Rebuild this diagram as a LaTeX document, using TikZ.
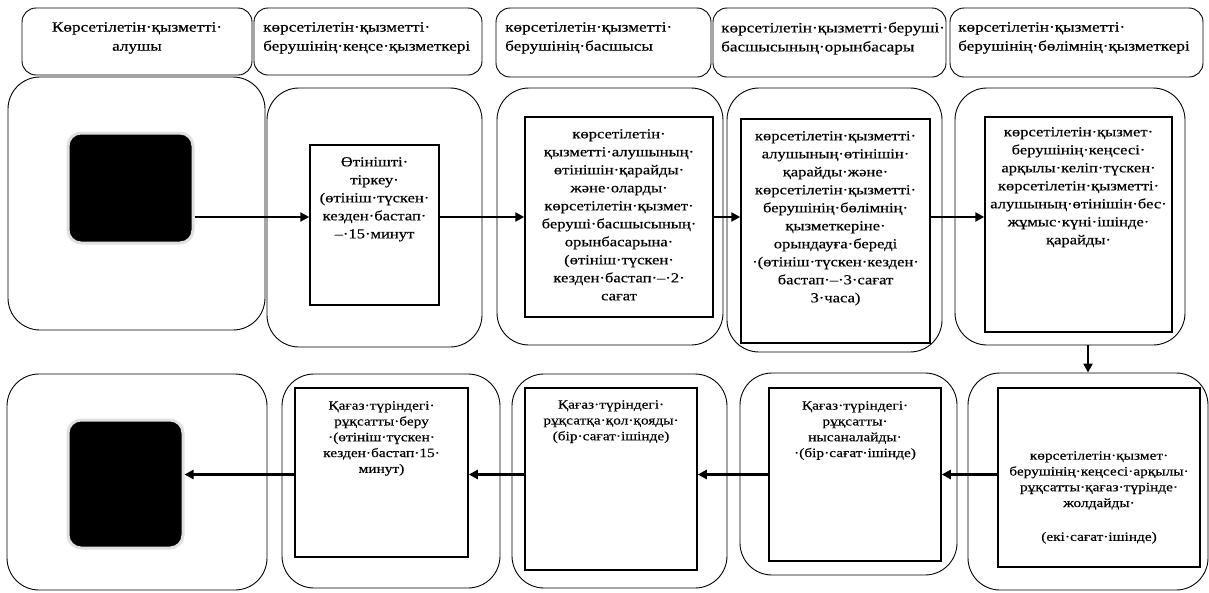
\documentclass[tikz,border=0pt]{standalone}
\usepackage{fontspec}
\setmainfont{Liberation Serif}[FakeStretch=1.2,FakeBold=0.4]
\usetikzlibrary{arrows.meta}
\newcommand{\kzhead}{\fontsize{14.3}{19}\selectfont}
\newcommand{\kzbody}{\fontsize{13.8}{18}\selectfont}
\newcommand{\kzsmall}{\fontsize{12.8}{15.8}\selectfont}

\begin{document}
\begin{tikzpicture}[x=1pt,y=-1pt,
    lane/.style={draw, rounded corners=14pt, line width=0.9pt, inner sep=0pt},
    stage/.style={draw, rounded corners=32pt, line width=0.9pt, inner sep=0pt},
    actbox/.style={draw, line width=1.5pt, inner sep=0pt},
    blk/.style={fill=black, draw=black!12, line width=3pt, rounded corners=13pt, inner sep=0pt},
    kztext/.style={align=center, inner sep=0pt, anchor=north, font=\kzbody},
    flow/.style={-{Triangle[length=9pt,width=9pt]}, line width=2.6pt}]

  \useasboundingbox (0,0) rectangle (1209,592);

  % header row
  \node[lane, minimum width=230pt, minimum height=67pt] (h1) at (137,41.5) {};
  \node[lane, minimum width=228pt, minimum height=67pt] (h2) at (368,41.5) {};
  \node[lane, minimum width=215pt, minimum height=69pt] (h3) at (603.5,42.5) {};
  \node[lane, minimum width=233pt, minimum height=69pt] (h4) at (829.5,42.5) {};
  \node[lane, minimum width=253pt, minimum height=69pt] (h5) at (1076.5,42.5) {};
  \node[kztext, font=\kzhead] (h1t) at (137,22) {Көрсетілетін·қызметті·\\алушы};
  \node[kztext, font=\kzhead, anchor=north west, align=left] (h2t) at (263,22)
    {көрсетілетін·қызметті·\\берушінің·кеңсе·қызметкері};
  \node[kztext, font=\kzhead, anchor=north west, align=left] (h3t) at (505,22)
    {көрсетілетін·қызметті·\\берушінің·басшысы};
  \node[kztext, font=\kzhead, anchor=north west, align=left] (h4t) at (721,22)
    {көрсетілетін·қызметті·беруші·\\басшысының·орынбасары};
  \node[kztext, font=\kzhead, anchor=north west, align=left] (h5t) at (958,22)
    {көрсетілетін·қызметті·\\берушінің·бөлімнің·қызметкері};

  % first row
  \node[stage, minimum width=257pt, minimum height=253pt] (a1) at (136.5,203.5) {};
  \node[blk, minimum width=125pt, minimum height=110pt] (a1blk) at (130.5,188) {};

  \node[stage, minimum width=215pt, minimum height=259pt] (b1) at (374.5,217.5) {};
  \node[actbox, minimum width=129pt, minimum height=160pt] (b1in) at (374.5,225) {};
  \node[kztext] (b1t) at (374.5,157)
    {Өтінішті·\\тіркеу·\\(өтініш·түскен·\\кезден·бастап·\\–·15·минут};

  \node[stage, minimum width=226pt, minimum height=257pt] (c1) at (610,216.5) {};
  \node[actbox, minimum width=188pt, minimum height=200pt] (c1in) at (619,217) {};
  \node[kztext] (c1t) at (619,129)
    {көрсетілетін·\\қызметті·алушының·\\өтінішін·қарайды·\\және·оларды·\\көрсетілетін·қызмет·\\беруші·басшысының·\\орынбасарына·\\(өтініш·түскен·\\кезден·бастап·–·2·\\сағат};

  \node[stage, minimum width=215pt, minimum height=264pt] (d1) at (834.5,220) {};
  \node[actbox, minimum width=189pt, minimum height=224pt] (d1in) at (835.5,231) {};
  \node[kztext] (d1t) at (835.5,131)
    {көрсетілетін·қызметті·\\алушының·өтінішін·\\қарайды·және·\\көрсетілетін·қызметті·\\берушінің·бөлімнің·\\қызметкеріне·\\орындауға·береді\\·(өтініш·түскен·кезден·\\бастап·–·3·сағат\\3·часа)};

  \node[stage, minimum width=230pt, minimum height=257pt] (e1) at (1070,216.5) {};
  \node[actbox, minimum width=187pt, minimum height=215pt] (e1in) at (1078.5,224.5) {};
  \node[kztext] (e1t) at (1078.5,127)
    {көрсетілетін·қызмет·\\берушінің·кеңсесі·\\арқылы·келіп·түскен·\\көрсетілетін·қызметті·\\алушының·өтінішін·бес·\\жұмыс·күні·ішінде·\\қарайды·};

  % second row
  \node[stage, minimum width=260pt, minimum height=216pt] (a2) at (137,482) {};
  \node[blk, minimum width=115pt, minimum height=128pt] (a2blk) at (125.5,484) {};

  \node[stage, minimum width=218pt, minimum height=214pt] (b2) at (391,481) {};
  \node[actbox, minimum width=173pt, minimum height=169pt] (b2in) at (381.5,472.5) {};
  \node[kztext, font=\kzsmall] (b2t) at (381.5,401)
    {Қағаз·түріндегі·\\рұқсатты·беру\\·(өтініш·түскен·\\кезден·бастап·15·\\минут)};

  \node[stage, minimum width=215pt, minimum height=214pt] (c2) at (619.5,481) {};
  \node[actbox, minimum width=172pt, minimum height=182pt] (c2in) at (611,479) {};
  \node[kztext, font=\kzsmall] (c2t) at (611,400)
    {Қағаз·түріндегі·\\рұқсатқа·қол·қояды·\\(бір·сағат·ішінде)};

  \node[stage, minimum width=217pt, minimum height=202pt] (d2) at (848.5,474) {};
  \node[actbox, minimum width=172pt, minimum height=173pt] (d2in) at (855,474.5) {};
  \node[kztext, font=\kzsmall] (d2t) at (855,401)
    {Қағаз·түріндегі·\\рұқсатты·\\нысаналайды·\\·(бір·сағат·ішінде)};

  \node[stage, minimum width=240pt, minimum height=217pt] (e2) at (1088,481.5) {};
  \node[actbox, minimum width=202pt, minimum height=179pt] (e2in) at (1099,477.5) {};
  \node[kztext, font=\kzsmall] (e2t) at (1099,451)
    {көрсетілетін·қызмет·\\берушінің·кеңсесі·арқылы·\\рұқсатты·қағаз·түрінде·\\жолдайды·\\[18pt](екі·сағат·ішінде)};

  % connectors
  \draw[flow] (a1blk.east |- c1in.west) -- (b1in.west |- c1in.west);
  \draw[flow] (b1in.east |- c1in.west) -- (c1in.west);
  \draw[flow] (c1in.east) -- (d1in.west |- c1in.east);
  \draw[flow] (d1in.east |- c1in.east) -- (e1in.west |- c1in.east);
  \draw[flow] (e2.north |- e1.south) -- (e2.north);
  \draw[flow] (e2in.west |- d2in.west) -- (d2in.east);
  \draw[flow] (d2in.west) -- (c2in.east |- d2in.west);
  \draw[flow] (c2in.west |- d2in.west) -- (b2in.east |- d2in.west);
  \draw[flow] (b2in.west |- d2in.west) -- (a2blk.east |- d2in.west);

\end{tikzpicture}
\end{document}
